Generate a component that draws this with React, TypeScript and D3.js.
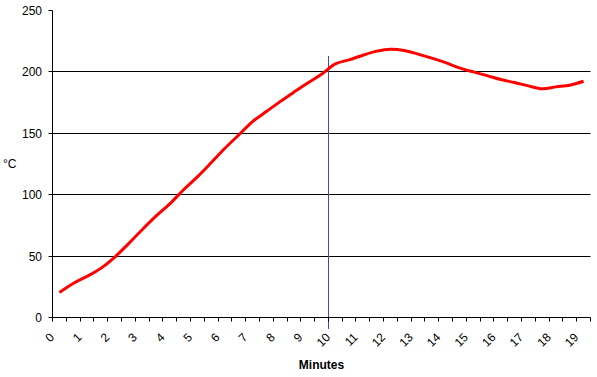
import React from "react";
import * as d3 from "d3";

const categories = [
  "0", "0.5", "1", "1.5", "2", "2.5", "3", "3.5", "4", "4.5",
  "5", "5.5", "6", "6.5", "7", "7.5", "8", "8.5", "9", "9.5",
  "10", "10.5", "11", "11.5", "12", "12.5", "13", "13.5", "14", "14.5",
  "15", "15.5", "16", "16.5", "17", "17.5", "18", "18.5", "19",
];
const temperature = [
  20.4, 27.7, 33.5, 40, 49, 60, 71.5, 82.5, 92.5, 104,
  114.5, 126, 137.8, 148.6, 159.5, 167.7, 175.8, 183.5, 191, 198,
  206.5, 209.8, 213.6, 216.9, 218.5, 217.4, 214.5, 211.2, 207.5, 203.3,
  200, 197, 193.8, 191.3, 188.6, 186.2, 187.8, 189.2, 192.4,
];
const xLabels = ["0", "1", "2", "3", "4", "5", "6", "7", "8", "9", "10", "11", "12", "13", "14", "15", "16", "17", "18", "19"];
const yTicks = [0, 50, 100, 150, 200, 250];
const gridValues = [50, 100, 150, 200];
const markerCategory = "10";

export default function App() {
  const W = 597;
  const H = 377;
  const left = 52.5;
  const right = 590.5;
  const top = 10.5;
  const bottom = 317.5;
  const font = "Arial, 'Liberation Sans', sans-serif";

  const x = d3.scaleBand<string>().domain(categories).range([left, right]).padding(0);
  const y = d3.scaleLinear().domain([0, 250]).range([bottom, top]);
  const cx = (c: string) => (x(c) as number) + x.bandwidth() / 2;
  const crisp = (v: number) => Math.floor(v) + 0.5;

  const line = d3
    .line<number>()
    .x((_, i) => cx(categories[i]))
    .y((d) => y(d))
    .curve(d3.curveCardinal.tension(0));

  const boundaries = categories.map((c) => x(c) as number).concat([right]);
  const markerX = crisp(x(markerCategory) as number);

  return (
    <svg width={W} height={H} style={{ position: "absolute", left: 0, top: 0, background: "#fff" }}>
      {/* grid */}
      {gridValues.map((v) => (
        <line key={"g" + v} x1={left} x2={right} y1={crisp(y(v))} y2={crisp(y(v))} stroke="#000" strokeWidth={1} />
      ))}
      {/* marker line */}
      <line x1={markerX} x2={markerX} y1={56} y2={329} stroke="#4646B4" strokeWidth={1} />
      {/* y axis */}
      <line x1={left} x2={left} y1={top} y2={bottom} stroke="#000" strokeWidth={1} />
      {yTicks.map((v) => (
        <g key={"y" + v}>
          <line x1={left - 4} x2={left} y1={crisp(y(v))} y2={crisp(y(v))} stroke="#000" />
          <text x={42} y={crisp(y(v))} dy="0.36em" textAnchor="end" fontFamily={font} fontSize={12} fill="#000">
            {v}
          </text>
        </g>
      ))}
      {/* x axis */}
      <line x1={left} x2={right} y1={bottom} y2={bottom} stroke="#000" strokeWidth={1} />
      {boundaries.map((b, i) => (
        <line key={"t" + i} x1={crisp(b)} x2={crisp(b)} y1={bottom} y2={bottom + 4} stroke="#000" />
      ))}
      {xLabels.map((lab) => {
        const ax = cx(lab) - 4.4;
        const ay = 338;
        return (
          <text
            key={"x" + lab}
            transform={`translate(${ax},${ay}) rotate(-45)`}
            textAnchor="end"
            fontFamily={font}
            fontSize={12}
            fill="#000"
          >
            {lab}
          </text>
        );
      })}
      {/* series */}
      <path d={line(temperature) || ""} fill="none" stroke="#FF0000" strokeWidth={3} strokeLinejoin="round" />
      {/* titles */}
      <text x={3} y={168} fontFamily={font} fontSize={12} fill="#000">°C</text>
      <text x={321.5} y={369} textAnchor="middle" fontFamily={font} fontSize={12} fontWeight="bold" fill="#000">
        Minutes
      </text>
    </svg>
  );
}
